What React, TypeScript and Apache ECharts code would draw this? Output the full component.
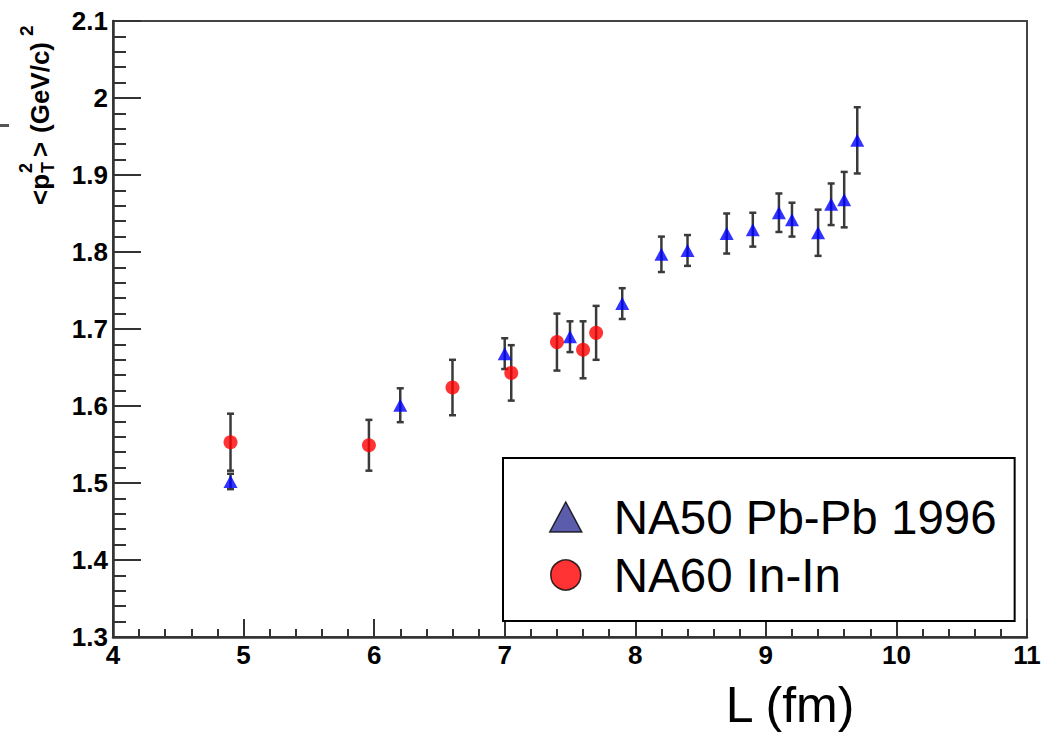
import React, { useEffect, useRef } from "react";
import * as echarts from "echarts";

const FONT = "'Liberation Sans', Arial, Helvetica, sans-serif";

// NA50 Pb-Pb 1996
const na50L = [4.9, 6.2, 7.0, 7.5, 7.9, 8.2, 8.4, 8.7, 8.9, 9.1, 9.2, 9.4, 9.5, 9.6, 9.7];
const na50Y = [1.502, 1.601, 1.668, 1.69, 1.733, 1.797, 1.802, 1.824, 1.829, 1.851, 1.842, 1.825, 1.862, 1.868, 1.945];
const na50Err = [0.01, 0.022, 0.02, 0.02, 0.02, 0.023, 0.02, 0.026, 0.022, 0.025, 0.022, 0.03, 0.027, 0.036, 0.043];

// NA60 In-In
const na60L = [4.9, 5.96, 6.6, 7.05, 7.4, 7.6, 7.7];
const na60Y = [1.553, 1.549, 1.624, 1.643, 1.683, 1.673, 1.695];
const na60Err = [0.037, 0.033, 0.036, 0.036, 0.037, 0.037, 0.035];

const seriesNames = ["NA50 Pb-Pb 1996", "NA60 In-In"];
const xTitle = "L (fm)";

export default function App() {
  const ref = useRef<HTMLDivElement>(null);

  useEffect(() => {
    const chart = echarts.init(ref.current!, undefined, { renderer: "svg" });

    const errData = (xs: number[], ys: number[], es: number[]) =>
      xs.map((x, i) => [x, ys[i] - es[i], ys[i] + es[i]]);
    const ptData = (xs: number[], ys: number[]) => xs.map((x, i) => [x, ys[i]]);

    const renderErr = (_params: any, api: any) => {
      const x = api.value(0);
      const pLo = api.coord([x, api.value(1)]);
      const pHi = api.coord([x, api.value(2)]);
      const cap = 3.5;
      const style = { stroke: "#3a3a3a", lineWidth: 2.5 };
      return {
        type: "group",
        children: [
          { type: "line", shape: { x1: pLo[0], y1: pLo[1], x2: pHi[0], y2: pHi[1] }, style },
          { type: "line", shape: { x1: pLo[0] - cap, y1: pLo[1], x2: pLo[0] + cap, y2: pLo[1] }, style },
          { type: "line", shape: { x1: pHi[0] - cap, y1: pHi[1], x2: pHi[0] + cap, y2: pHi[1] }, style },
        ],
      };
    };

    const axisColor = "#333";
    const tickLabel = { color: "#000", fontFamily: FONT, fontWeight: "bold" as const, fontSize: 26 };

    const vText = (text: string, x: number, y: number, size: number) => ({
      type: "text",
      x,
      y,
      rotation: Math.PI / 2,
      style: {
        text,
        fontFamily: FONT,
        fontWeight: "bold",
        fontSize: size,
        fill: "#000",
        align: "left",
        verticalAlign: "middle",
      },
    });

    chart.setOption({
      animation: false,
      backgroundColor: "#fff",
      grid: {
        left: 113,
        right: 36,
        top: 21,
        bottom: 95,
        show: true,
        borderColor: "#444",
        borderWidth: 2,
        backgroundColor: "transparent",
      },
      xAxis: {
        type: "value",
        min: 4,
        max: 11,
        interval: 1,
        axisLine: { show: true, lineStyle: { color: axisColor, width: 2.5 } },
        axisTick: { show: true, inside: true, length: 18, lineStyle: { color: axisColor, width: 2 } },
        minorTick: { show: true, splitNumber: 5, length: 8, lineStyle: { color: axisColor, width: 2 } },
        splitLine: { show: false },
        axisLabel: { ...tickLabel, margin: 5 },
      },
      yAxis: {
        type: "value",
        min: 1.3,
        max: 2.1,
        interval: 0.1,
        axisLine: { show: true, lineStyle: { color: axisColor, width: 2.5 } },
        axisTick: { show: true, inside: true, length: 28, lineStyle: { color: axisColor, width: 2 } },
        minorTick: { show: true, splitNumber: 5, length: 13, lineStyle: { color: axisColor, width: 2 } },
        splitLine: { show: false },
        axisLabel: {
          ...tickLabel,
          margin: 5,
          formatter: (v: number) => String(Math.round(v * 10) / 10),
        },
      },
      legend: {
        orient: "vertical",
        left: 503,
        top: 458,
        padding: [35, 18, 22, 46],
        itemGap: 10,
        itemWidth: 32,
        itemHeight: 30,
        borderColor: "#000",
        borderWidth: 2,
        borderRadius: 0,
        backgroundColor: "#fff",
        textStyle: { fontFamily: FONT, fontSize: 47.5, color: "#000", padding: [0, 0, 0, 27] },
        data: [
          { name: seriesNames[0], icon: "triangle", itemStyle: { color: "#333399", borderColor: "#000", borderWidth: 1.5 } },
          { name: seriesNames[1], icon: "circle", itemStyle: { color: "#ff0000", borderColor: "#000", borderWidth: 1.5 } },
        ],
      },
      graphic: [
        vText("<p", 40, 205, 26),
        vText("T", 48, 173, 18),
        vText("2", 26, 173, 18),
        vText(">", 40, 157, 26),
        vText("(GeV/c)", 40, 133, 26),
        vText("2", 26, 36, 19),
        {
          type: "text",
          x: 790,
          y: 705,
          style: { text: xTitle, fontFamily: FONT, fontSize: 50, fill: "#000", align: "center", verticalAlign: "middle" },
        },
        {
          type: "line",
          shape: { x1: 0, y1: 125.5, x2: 9, y2: 125.5 },
          style: { stroke: "#555", lineWidth: 3 },
        },
      ],
      series: [
        {
          name: seriesNames[0] + " err",
          type: "custom",
          renderItem: renderErr,
          data: errData(na50L, na50Y, na50Err),
          encode: { x: 0, y: [1, 2] },
          z: 1,
          silent: true,
        },
        {
          name: seriesNames[1] + " err",
          type: "custom",
          renderItem: renderErr,
          data: errData(na60L, na60Y, na60Err),
          encode: { x: 0, y: [1, 2] },
          z: 1,
          silent: true,
        },
        {
          name: seriesNames[0],
          type: "scatter",
          symbol: "triangle",
          symbolSize: [14, 13],
          itemStyle: { color: "#0000ff" },
          data: ptData(na50L, na50Y),
          z: 3,
        },
        {
          name: seriesNames[1],
          type: "scatter",
          symbol: "circle",
          symbolSize: 14,
          itemStyle: { color: "#ff0000" },
          data: ptData(na60L, na60Y),
          z: 3,
        },
      ],
    });

    return () => chart.dispose();
  }, []);

  return (
    <div
      ref={ref}
      style={{ position: "fixed", left: 0, top: 0, width: 1063, height: 732, background: "#fff" }}
    />
  );
}
